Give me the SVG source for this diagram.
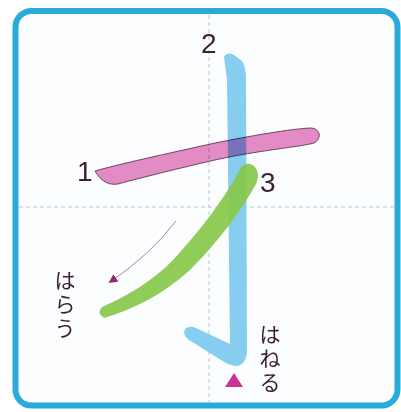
<svg xmlns="http://www.w3.org/2000/svg" width="401" height="412" viewBox="0 0 401 412">
  <style>
    .num { font-family: "Liberation Sans", Arial, sans-serif; font-size: 28px; fill: #3a1f35; }
    .jp { font-family: "Liberation Sans", "Noto Sans CJK JP", sans-serif; font-size: 21px; fill: #3a1f35; text-anchor: middle; }
    .guide { stroke: #b7c7d3; stroke-width: 1; stroke-dasharray: 4 3; fill: none; }
    .mult { mix-blend-mode: multiply; }
  </style>
  <defs>
    <marker id="ah" viewBox="0 0 10 10" refX="8" refY="5" markerWidth="9" markerHeight="9" orient="auto" markerUnits="userSpaceOnUse">
      <path d="M0,0 L10,5 L0,10 Z" fill="#8a2a70"/>
    </marker>
  </defs>
  <rect x="0" y="0" width="401" height="412" fill="#ffffff"/>
  <g id="frame">
    <rect x="15.5" y="11" width="382" height="394.5" rx="16" fill="#fcfdfe" stroke="#29abd9" stroke-width="6"/>
    <line class="guide" x1="209" y1="15" x2="209" y2="402"/>
    <line class="guide" x1="19" y1="207" x2="395" y2="207"/>
  </g>
  <g id="stroke2">
    <path d="M 224,57 Q 227,51 234,55 L 242,61 Q 246,66 246,80 L 247,350 Q 247,364 237,366 Q 230,366 221,360 L 189,340 Q 182,335 185,329 Q 189,325 196,328 L 230,344 L 227,80 Z" fill="#86cdf0"/>
  </g>
  <g id="stroke1">
    <path class="mult" d="M 95,171 C 115,165 170,153 215,143 C 250,136 290,129 310,128 C 321,128 322,139 314,143 C 300,147 260,150 215,160 C 180,168 140,178 118,184 C 106,186 99,178 95,171 Z" fill="#e68cc6" stroke="#4a2a40" stroke-width="0.8"/>
  </g>
  <g id="stroke3">
    <path d="M 238,173 C 228,192 203,228 173,260 C 153,281 125,297 102,307 Q 96,313 104,318 C 133,310 165,293 190,270 C 220,240 243,208 256,184 C 262,172 254,162 246,164 C 242,165 240,169 238,173 Z" fill="#88c84a" fill-opacity="0.92"/>
  </g>
  <g id="connectors">
    <path d="M 176,221 Q 150,255 110,282" fill="none" stroke="#b27fa8" stroke-width="1" marker-end="url(#ah)"/>
  </g>
  <g id="labels">
    <text class="num" x="77" y="181">1</text>
    <text class="num" x="201" y="53">2</text>
    <text class="num" x="260" y="192">3</text>
  </g>
  <g id="harau">
    <text class="jp" x="65" y="288">は</text>
    <text class="jp" x="65" y="312">ら</text>
    <text class="jp" x="65" y="336">う</text>
  </g>
  <g id="haneru">
    <text class="jp" x="270" y="342">は</text>
    <text class="jp" x="270" y="366">ね</text>
    <text class="jp" x="270" y="390">る</text>
    <path d="M 225,387 L 243,387 L 234,373 Z" fill="#cc3399"/>
  </g>
</svg>
